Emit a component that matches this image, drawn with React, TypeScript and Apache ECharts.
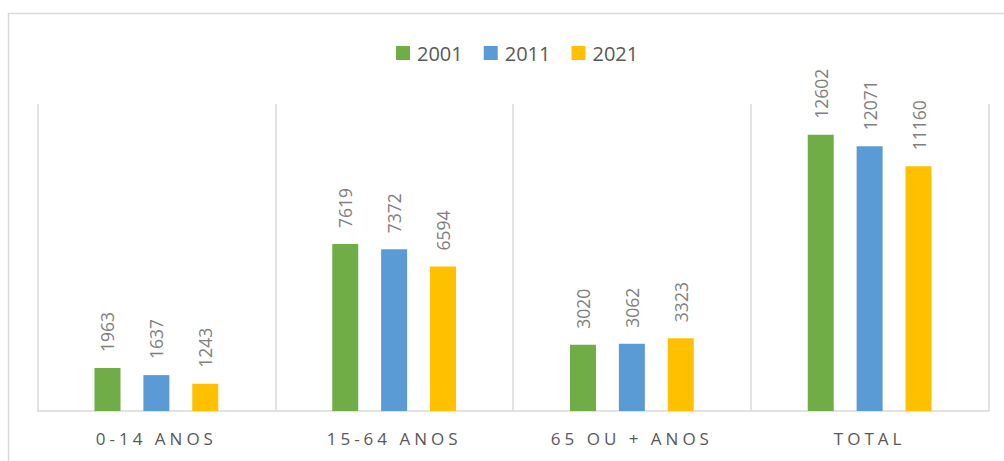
import React, { useEffect, useRef } from "react";
import * as echarts from "echarts";

const categories = ["0-14 ANOS", "15-64 ANOS", "65 OU + ANOS", "TOTAL"];
const years = ["2001", "2011", "2021"];
const values2001 = [1963, 7619, 3020, 12602];
const values2011 = [1637, 7372, 3062, 12071];
const values2021 = [1243, 6594, 3323, 11160];
const colors = ["#70AD47", "#5B9BD5", "#FFC000"];

const AXIS_LABEL_COLOR = "#585858";

export default function App() {
  const ref = useRef<HTMLDivElement>(null);
  useEffect(() => {
    const chart = echarts.init(ref.current!, undefined, { renderer: "svg" });
    const font = "'Open Sans', 'Liberation Sans', sans-serif";
    const seriesData = [values2001, values2011, values2021];
    chart.setOption({
      animation: false,
      backgroundColor: "#ffffff",
      textStyle: { fontFamily: font },
      graphic: [
        {
          type: "rect",
          shape: { x: 8.5, y: 13.5, width: 1010, height: 470 },
          style: { fill: "none", stroke: "#d9d9d9", lineWidth: 1.5 },
          silent: true,
        },
      ],
      legend: {
        top: 38,
        left: 391,
        itemWidth: 14,
        itemHeight: 14,
        itemGap: 21,
        icon: "rect",
        textStyle: { color: "#595959", fontSize: 20, fontFamily: font, padding: [0, 0, 0, 2] },
        data: years,
      },
      grid: { left: 37.5, right: 15.5, top: 104, bottom: 50 },
      xAxis: {
        type: "category",
        data: categories,
        axisTick: { show: false },
        axisLine: { lineStyle: { color: "#d9d9d9", width: 1.5 } },
        splitLine: { show: true, lineStyle: { color: "#d9d9d9", width: 1.5 } },
        axisLabel: { color: AXIS_LABEL_COLOR, fontSize: 17, margin: 19, fontFamily: font },
      },
      yAxis: {
        type: "value",
        min: 0,
        max: 14000,
        show: false,
        splitLine: { show: false },
      },
      series: years.map((y, i) => ({
        name: y,
        type: "bar",
        data: seriesData[i],
        barWidth: 26,
        barGap: "88%",
        itemStyle: { color: colors[i] },
        label: {
          show: true,
          position: "top",
          rotate: 90,
          align: "left",
          verticalAlign: "middle",
          distance: 16,
          color: "#808080",
          fontSize: 17.5,
          fontFamily: font,
        },
      })),
    });
    return () => chart.dispose();
  }, []);
  return (
    <>
      <style>{`text[fill="${AXIS_LABEL_COLOR}"] { letter-spacing: 4px; }`}</style>
      <div
        ref={ref}
        style={{ position: "absolute", left: 0, top: 0, width: 1004, height: 461 }}
      />
    </>
  );
}
